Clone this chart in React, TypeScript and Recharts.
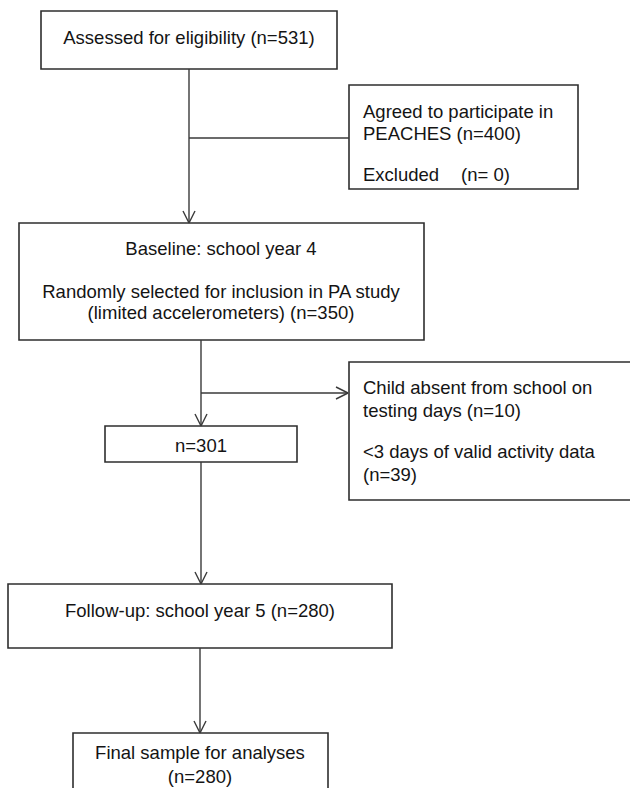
import React from "react";
import {
  ScatterChart,
  Scatter,
  XAxis,
  YAxis,
  ReferenceArea,
  ReferenceLine,
} from "recharts";

// Flow-chart boxes (x1,x2,y1,y2 in chart units)
const boxes = [
  { id: "assessed", x1: 41, x2: 337, y1: 11, y2: 69 },
  { id: "agreed", x1: 349, x2: 578, y1: 85, y2: 189 },
  { id: "baseline", x1: 19, x2: 424, y1: 223, y2: 340 },
  { id: "absent", x1: 349, x2: 640, y1: 362, y2: 500 },
  { id: "n301", x1: 105, x2: 297, y1: 426, y2: 462 },
  { id: "followup", x1: 8, x2: 392, y1: 584, y2: 648 },
  { id: "final", x1: 73, x2: 328, y1: 733, y2: 810 },
];

// Connector segments
const connectors = [
  { x1: 189, y1: 69, x2: 189, y2: 223 },
  { x1: 189, y1: 138, x2: 349, y2: 138 },
  { x1: 201, y1: 340, x2: 201, y2: 426 },
  { x1: 201, y1: 393, x2: 348, y2: 393 },
  { x1: 201, y1: 462, x2: 201, y2: 584 },
  { x1: 200, y1: 648, x2: 200, y2: 733 },
];

// Arrow tips: position and direction
const arrowTips = [
  { x: 189, y: 223, dir: "down" },
  { x: 348, y: 393, dir: "right" },
  { x: 201, y: 426, dir: "down" },
  { x: 201, y: 584, dir: "down" },
  { x: 200, y: 733, dir: "down" },
];

// Text labels
const labels = [
  { x: 189, y: 37, text: "Assessed for eligibility (n=531)", anchor: "middle" },
  { x: 363, y: 111, text: "Agreed to participate in", anchor: "start" },
  { x: 363, y: 133, text: "PEACHES (n=400)", anchor: "start" },
  { x: 363, y: 174, text: "Excluded", anchor: "start" },
  { x: 461, y: 174, text: "(n= 0)", anchor: "start" },
  { x: 221, y: 248, text: "Baseline: school year 4", anchor: "middle" },
  { x: 221, y: 291, text: "Randomly selected for inclusion in PA study", anchor: "middle" },
  { x: 221, y: 312, text: "(limited accelerometers) (n=350)", anchor: "middle" },
  { x: 363, y: 387, text: "Child absent from school on", anchor: "start" },
  { x: 363, y: 410, text: "testing days (n=10)", anchor: "start" },
  { x: 363, y: 451, text: "<3 days of valid activity data", anchor: "start" },
  { x: 363, y: 474, text: "(n=39)", anchor: "start" },
  { x: 201, y: 445, text: "n=301", anchor: "middle" },
  { x: 200, y: 610, text: "Follow-up: school year 5 (n=280)", anchor: "middle" },
  { x: 200, y: 752, text: "Final sample for analyses", anchor: "middle" },
  { x: 200, y: 776, text: "(n=280)", anchor: "middle" },
];

const W = 630;
const H = 788;
const HEAD_LEN = 12;
const HEAD_HALF = 6;
const LINE_COLOR = "#3a3a3a";
const BOX_COLOR = "#2e2e2e";
const FONT = "'Liberation Sans', Arial, sans-serif";

function arrowSegments() {
  const segs: { x1: number; y1: number; x2: number; y2: number }[] = [];
  arrowTips.forEach((a) => {
    if (a.dir === "down") {
      segs.push({ x1: a.x, y1: a.y, x2: a.x - HEAD_HALF, y2: a.y - HEAD_LEN });
      segs.push({ x1: a.x, y1: a.y, x2: a.x + HEAD_HALF, y2: a.y - HEAD_LEN });
    } else {
      segs.push({ x1: a.x, y1: a.y, x2: a.x - HEAD_LEN, y2: a.y - HEAD_HALF });
      segs.push({ x1: a.x, y1: a.y, x2: a.x - HEAD_LEN, y2: a.y + HEAD_HALF });
    }
  });
  return segs;
}

const TextShape = (props: any) => {
  const { cx, cy, payload } = props;
  return (
    <text
      x={cx}
      y={cy}
      textAnchor={payload.anchor}
      dominantBaseline="central"
      fontFamily={FONT}
      fontSize={18.5}
      fill="#141414"
    >
      {payload.text}
    </text>
  );
};

export default function App() {
  const heads = arrowSegments();
  return (
    <div style={{ position: "absolute", left: 0, top: 0, width: W, height: H, background: "#fff" }}>
      <ScatterChart width={W} height={H} margin={{ top: 0, right: 0, bottom: 0, left: 0 }}>
        <XAxis type="number" dataKey="x" domain={[0, W]} hide allowDataOverflow />
        <YAxis type="number" dataKey="y" domain={[0, H]} reversed hide allowDataOverflow width={0} />
        {connectors.map((c, i) => (
          <ReferenceLine
            key={"c" + i}
            segment={[
              { x: c.x1, y: c.y1 },
              { x: c.x2, y: c.y2 },
            ]}
            stroke={LINE_COLOR}
            strokeWidth={1.4}
            ifOverflow="visible"
          />
        ))}
        {heads.map((c, i) => (
          <ReferenceLine
            key={"h" + i}
            segment={[
              { x: c.x1, y: c.y1 },
              { x: c.x2, y: c.y2 },
            ]}
            stroke={LINE_COLOR}
            strokeWidth={1.4}
            ifOverflow="visible"
          />
        ))}
        {boxes.map((b) => (
          <ReferenceArea
            key={b.id}
            x1={b.x1}
            x2={b.x2}
            y1={b.y1}
            y2={b.y2}
            fill="#ffffff"
            fillOpacity={1}
            stroke={BOX_COLOR}
            strokeWidth={1.6}
            ifOverflow="visible"
          />
        ))}
        <Scatter data={labels} shape={TextShape} isAnimationActive={false} />
      </ScatterChart>
    </div>
  );
}
